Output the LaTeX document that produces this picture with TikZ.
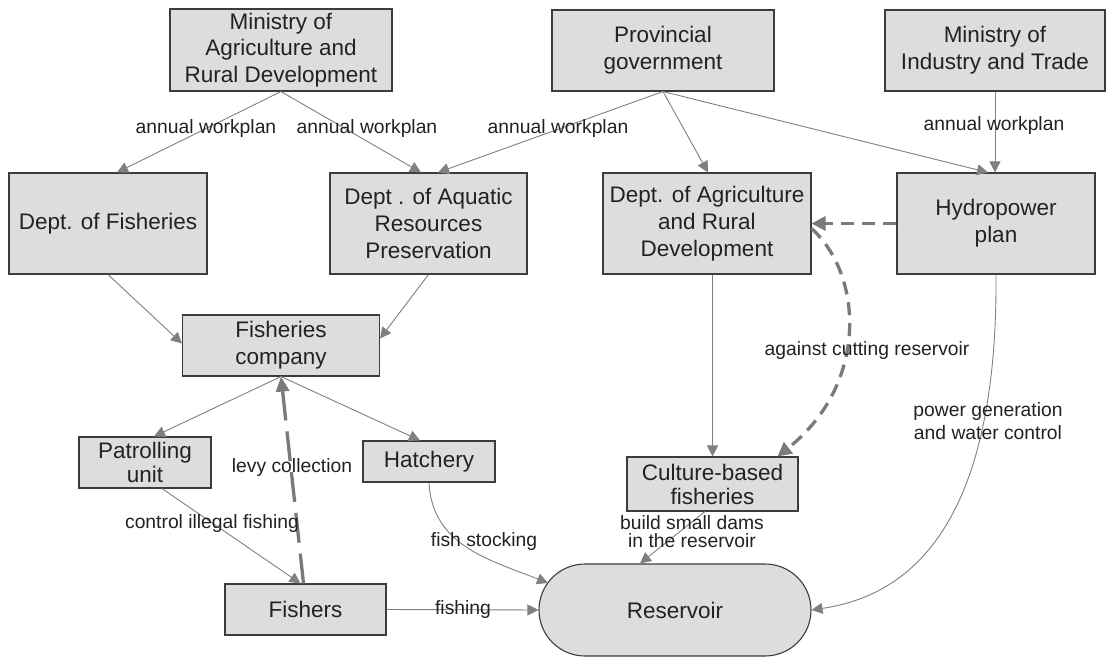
\documentclass[tikz,border=0pt]{standalone}
\usepackage{fontspec}
\setmainfont{Liberation Sans}
\usetikzlibrary{arrows.meta,shapes.misc}
\definecolor{boxfill}{HTML}{DCDDDE}
\definecolor{boxline}{HTML}{3C3C3C}
\definecolor{arr}{HTML}{808080}
\definecolor{dsh}{HTML}{7A7A7A}
\definecolor{txt}{HTML}{222222}
\begin{document}
\begin{tikzpicture}[x=1pt,y=1pt,
  box/.style={draw=boxline, line width=1.1pt, fill=boxfill, rectangle, inner sep=0pt,
    align=center, text=txt, font=\fontsize{22.5}{26.7}\selectfont},
  lbl/.style={inner sep=0pt, align=center, text=txt, font=\fontsize{19.3}{23}\selectfont},
  conn/.style={draw=arr, line width=0.9pt, -{Triangle[length=11pt,width=11pt]}},
  dconn/.style={draw=dsh, line width=3.3pt, dash pattern=on 13pt off 8pt,
    -{Triangle[length=14pt,width=14pt]}},
  lconn/.style={draw=dsh, line width=3.3pt, dash pattern=on 30pt off 11pt,
    -{Triangle[length=15pt,width=13pt]}},
]
\useasboundingbox (0,0) rectangle (1106,-660);
\fill[white] (0,0) rectangle (1106,-660);

% nodes
\node[box, minimum width=222pt, minimum height=82pt] (mard) at (281,-50) {Ministry of\\Agriculture and\\Rural Development};
\node[box, minimum width=222pt, minimum height=81pt] (prov) at (663,-50.5) {Provincial\\government};
\node[box, minimum width=220pt, minimum height=81pt] (mit) at (995,-50.5) {Ministry of\\Industry and Trade};
\node[box, minimum width=198pt, minimum height=101pt] (dof) at (108,-223.5) {Dept. of Fisheries};
\node[box, minimum width=197pt, minimum height=101pt] (dar) at (428.5,-223.5) {Dept . of Aquatic\\Resources\\Preservation};
\node[box, minimum width=208pt, minimum height=101pt] (dag) at (707,-223.5) {Dept. of Agriculture\\and Rural\\Development};
\node[box, minimum width=198pt, minimum height=101pt] (hyd) at (996,-223.5) {Hydropower\\plan};
\node[box, minimum width=197pt, minimum height=61pt] (fc) at (281,-345.5) {Fisheries\\company};
\node[box, minimum width=132pt, minimum height=51pt, font=\fontsize{22.5}{24}\selectfont] (pu) at (145,-462.5) {Patrolling\\unit};
\node[box, minimum width=132pt, minimum height=41pt] (hat) at (429,-461.5) {Hatchery};
\node[box, minimum width=161pt, minimum height=51pt] (fis) at (305.5,-609.5) {Fishers};
\node[box, minimum width=171pt, minimum height=54pt, font=\fontsize{22.5}{24}\selectfont] (cbf) at (712.5,-484) {Culture-based\\fisheries};
\node[box, rounded rectangle, minimum width=272pt, minimum height=92pt] (res) at (675,-610) {Reservoir};

% connectors
\draw[conn] (mard.south) -- ([xshift=9pt]dof.north);
\draw[conn] (mard.south) -- ([xshift=-7.5pt]dar.north);
\draw[conn] (prov.south) -- ([xshift=9.5pt]dar.north);
\draw[conn] (prov.south) -- ([xshift=1pt]dag.north);
\draw[conn] (prov.south) -- ([xshift=-8pt]hyd.north);
\draw[conn] (mit.south) -- (mit.south |- hyd.north);
\draw[conn] (dof.south) -- ([yshift=2pt]fc.west);
\draw[conn] (dar.south) -- ([yshift=7pt]fc.east);
\draw[conn] (fc.south) -- ([xshift=9pt]pu.north);
\draw[conn] (fc.south) -- ([xshift=-9pt]hat.north);
\draw[conn] ([xshift=17pt]pu.south) -- ([xshift=-5pt]fis.north);
\draw[lconn] ([xshift=-2pt]fis.north) -- (fc.south);
\draw[conn] (hat.south) .. controls +(3,-63) and +(-58,23) .. ([shift={(-127,27)}]res.center);
\draw[conn] (fis.east) -- (res.west);
\draw[conn] ([xshift=-7.5pt]cbf.south) -- ([xshift=-35pt]res.north);
\draw[conn] (cbf.north |- dag.south) -- (cbf.north);
\draw[dconn] (hyd.west) -- (dag.east);
\draw[dconn] ([yshift=-5pt]dag.east) .. controls +(52,-47) and +(91,72) .. ([xshift=65pt]cbf.north);
\draw[conn] (hyd.south) .. controls +(2,-266) and +(87,13) .. (res.east);

% labels
\node[lbl] (l1) at (206,-129) {annual workplan};
\node[lbl] (l2) at (367,-129) {annual workplan};
\node[lbl] (l3) at (558,-129) {annual workplan};
\node[lbl] (l4) at (994,-126) {annual workplan};
\node[lbl] (l5) at (292,-468) {levy collection};
\node[lbl] (l6) at (212,-524) {control illegal fishing};
\node[lbl] (l7) at (484,-542) {fish stocking};
\node[lbl] (l8) at (463,-610) {fishing};
\node[lbl, font=\fontsize{19.3}{18}\selectfont] (l9) at (692,-532) {build small dams\\in the reservoir};
\node[lbl] (l10) at (867,-351) {against cutting reservoir};
\node[lbl] (l11) at (988,-421.5) {power generation\\and water control};
\end{tikzpicture}
\end{document}
